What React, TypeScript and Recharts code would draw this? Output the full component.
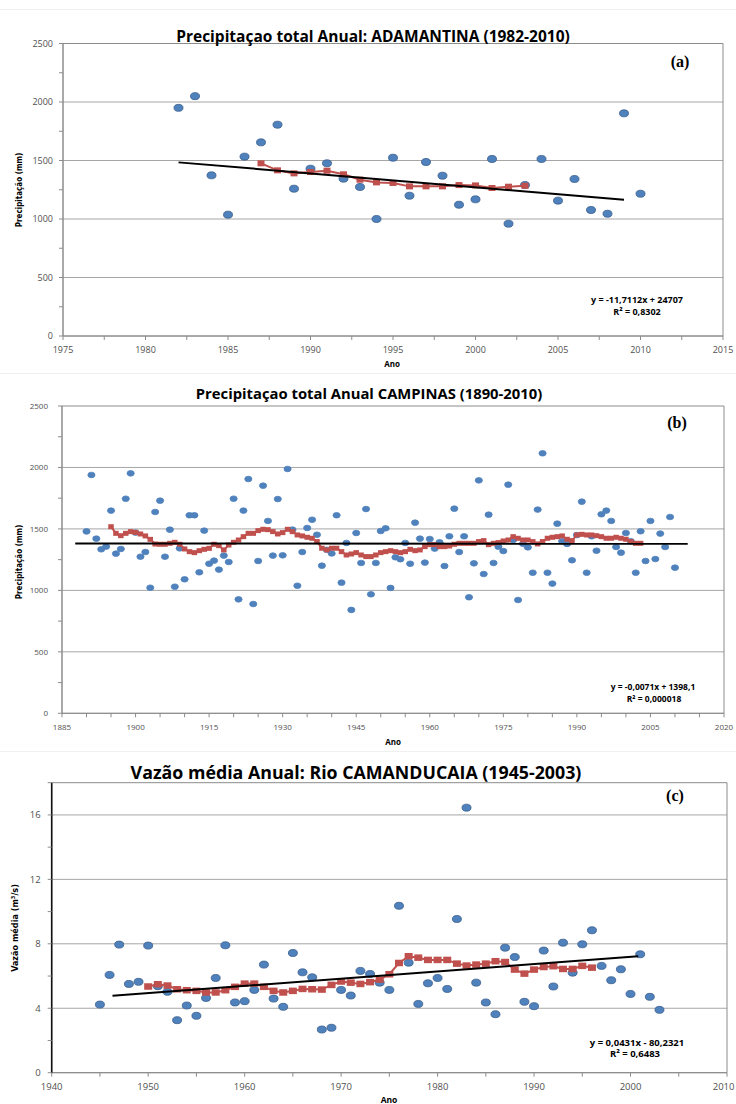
import React from 'react';
import { ScatterChart, Scatter, XAxis, YAxis, CartesianGrid, ReferenceArea } from 'recharts';

// ---------- (a) ADAMANTINA ----------
const aYears = [1982, 1983, 1984, 1985, 1986, 1987, 1988, 1989, 1990, 1991, 1992, 1993, 1994, 1995, 1996,
  1997, 1998, 1999, 2000, 2001, 2002, 2003, 2004, 2005, 2006, 2007, 2008, 2009, 2010];
const aPrecip = [1950, 2050, 1373, 1037, 1533, 1655, 1806, 1259, 1430, 1476, 1345, 1274, 1000, 1524, 1199,
  1487, 1370, 1122, 1168, 1513, 960, 1290, 1513, 1157, 1342, 1077, 1045, 1903, 1216];
const aAvgYears = [1987, 1988, 1989, 1990, 1991, 1992, 1993, 1994, 1995, 1996, 1997, 1998, 1999, 2000, 2001, 2002, 2003];
const aAvg = [1476, 1416, 1390, 1402, 1413, 1382, 1336, 1313, 1308, 1279, 1279, 1279, 1290, 1287, 1265, 1276, 1284];
const aTrendYears = [1982, 2009];
const aTrend = [1484, 1165];
const aXTicks = [1975, 1977.5, 1980, 1982.5, 1985, 1987.5, 1990, 1992.5, 1995, 1997.5, 2000, 2002.5, 2005, 2007.5, 2010, 2012.5, 2015];
const aXLabels = [1975, 1980, 1985, 1990, 1995, 2000, 2005, 2010, 2015];
const aYTicks = [0, 250, 500, 750, 1000, 1250, 1500, 1750, 2000, 2250, 2500];
const aYLabels = [0, 500, 1000, 1500, 2000, 2500];

// ---------- (b) CAMPINAS ----------
const bYears = [
  1890, 1891, 1892, 1893, 1894, 1895, 1896, 1897, 1898, 1899,
  1900, 1901, 1902, 1903, 1904, 1905, 1906, 1907, 1908, 1909,
  1910, 1911, 1912, 1913, 1914, 1915, 1916, 1917, 1918, 1919,
  1920, 1921, 1922, 1923, 1924, 1925, 1926, 1927, 1928, 1929,
  1930, 1931, 1932, 1933, 1934, 1935, 1936, 1937, 1938, 1939,
  1940, 1941, 1942, 1943, 1944, 1945, 1946, 1947, 1948, 1949,
  1950, 1951, 1952, 1953, 1954, 1955, 1956, 1957, 1958, 1959,
  1960, 1961, 1962, 1963, 1964, 1965, 1966, 1967, 1968, 1969,
  1970, 1971, 1972, 1973, 1974, 1975, 1976, 1977, 1978, 1979,
  1980, 1981, 1982, 1983, 1984, 1985, 1986, 1987, 1988, 1989,
  1990, 1991, 1992, 1993, 1994, 1995, 1996, 1997, 1998, 1999,
  2000, 2001, 2002, 2003, 2004, 2005, 2006, 2007, 2008, 2009, 2010];
const bPrecip = [
  1480, 1939, 1421, 1334, 1356, 1649, 1299, 1337, 1746, 1952,
  1470, 1274, 1312, 1022, 1638, 1730, 1274, 1494, 1030, 1342,
  1090, 1611, 1611, 1147, 1486, 1217, 1242, 1169, 1283, 1231,
  1746, 927, 1649, 1906, 889, 1239, 1852, 1565, 1283, 1743,
  1285, 1988, 1494, 1038, 1312, 1508, 1575, 1453, 1201, 1330,
  1300, 1611, 1063, 1386, 841, 1467, 1223, 1662, 968, 1223,
  1483, 1505, 1020, 1269, 1253, 1386, 1217, 1551, 1421, 1226,
  1418, 1340, 1391, 1198, 1440, 1665, 1312, 1440, 944, 1220,
  1895, 1133, 1616, 1223, 1355, 1320, 1860, 1410, 922, 1380,
  1350, 1144, 1657, 2115, 1144, 1055, 1543, 1400, 1378, 1245,
  1450, 1722, 1144, 1440, 1323, 1619, 1649, 1565, 1353, 1307,
  1467, 1400, 1144, 1481, 1239, 1565, 1255, 1462, 1353, 1597, 1185];
const bAvgYears = bYears.slice(5, 114);
const bAvg = [
  1518, 1464, 1445, 1464, 1478, 1472, 1459, 1443, 1415, 1377,
  1375, 1375, 1383, 1391, 1375, 1337, 1315, 1307, 1323, 1334,
  1342, 1375, 1364, 1329, 1369, 1391, 1410, 1437, 1464, 1464,
  1486, 1497, 1494, 1478, 1459, 1470, 1497, 1478, 1451, 1443,
  1432, 1424, 1397, 1343, 1329, 1343, 1343, 1315, 1288, 1296,
  1307, 1288, 1275, 1275, 1288, 1307, 1315, 1323, 1315, 1307,
  1315, 1334, 1323, 1329, 1356, 1372, 1372, 1356, 1356, 1361,
  1375, 1383, 1383, 1383, 1383, 1397, 1405, 1372, 1383, 1389,
  1402, 1410, 1437, 1424, 1410, 1410, 1397, 1378, 1397, 1424,
  1432, 1437, 1443, 1416, 1405, 1451, 1456, 1451, 1451, 1445,
  1437, 1424, 1424, 1432, 1424, 1416, 1397, 1383, 1383];
const bTrendYears = [1887.7, 2012.6];
const bTrend = [1381, 1379];
const bXTicks = [1885, 1890, 1895, 1900, 1905, 1910, 1915, 1920, 1925, 1930, 1935, 1940, 1945, 1950, 1955,
  1960, 1965, 1970, 1975, 1980, 1985, 1990, 1995, 2000, 2005, 2010, 2015, 2020];
const bXLabels = [1885, 1900, 1915, 1930, 1945, 1960, 1975, 1990, 2005, 2020];
const bYTicks = aYTicks;
const bYLabels = aYLabels;

// ---------- (c) CAMANDUCAIA ----------
const cYears = [1945, 1946, 1947, 1948, 1949, 1950, 1951, 1952, 1953, 1954, 1955, 1956, 1957, 1958, 1959,
  1960, 1961, 1962, 1963, 1964, 1965, 1966, 1967, 1968, 1969, 1970, 1971, 1972, 1973, 1974,
  1975, 1976, 1977, 1978, 1979, 1980, 1981, 1982, 1983, 1984, 1985, 1986, 1987, 1988, 1989,
  1990, 1991, 1992, 1993, 1994, 1995, 1996, 1997, 1998, 1999, 2000, 2001, 2002, 2003];
const cFlow = [4.23, 6.07, 7.95, 5.51, 5.64, 7.89, 5.37, 5.02, 3.26, 4.17, 3.53, 4.64, 5.88, 7.91, 4.36,
  4.44, 5.14, 6.71, 4.6, 4.09, 7.43, 6.23, 5.92, 2.68, 2.79, 5.14, 4.79, 6.32, 6.13, 5.59,
  5.14, 10.36, 6.83, 4.27, 5.55, 5.88, 5.2, 9.54, 16.45, 5.59, 4.36, 3.63, 7.76, 7.18, 4.4,
  4.13, 7.58, 5.35, 8.07, 6.21, 7.97, 8.84, 6.63, 5.74, 6.42, 4.89, 7.35, 4.71, 3.9];
const cAvgYears = cYears.slice(5, 52);
const cAvg = [5.35, 5.49, 5.41, 5.18, 5.12, 5.08, 4.98, 4.98, 5.12, 5.33,
  5.53, 5.53, 5.33, 5.08, 4.98, 5.08, 5.2, 5.18, 5.16, 5.45,
  5.66, 5.59, 5.51, 5.62, 5.78, 6.11, 6.81, 7.23, 7.14, 7.0,
  7.0, 7.0, 6.77, 6.65, 6.71, 6.77, 6.92, 6.87, 6.4, 6.15,
  6.4, 6.56, 6.61, 6.44, 6.44, 6.63, 6.52];
const cTrendYears = [1946.3, 2000.8];
const cTrend = [4.77, 7.23];
const cXTicks = [1940, 1945, 1950, 1955, 1960, 1965, 1970, 1975, 1980, 1985, 1990, 1995, 2000, 2005, 2010];
const cXLabels = [1940, 1950, 1960, 1970, 1980, 1990, 2000, 2010];
const cYTicks = [0, 2, 4, 6, 8, 10, 12, 14, 16, 18];
const cYLabels = [0, 4, 8, 12, 16];

const BLUE = '#4f81bd';
const BLUE_EDGE = '#385d8a';
const RED = '#c0504d';
const GRID = '#a6a6a6';
const FRAME = '#8c8c8c';
const SANS = '"Open Sans", "Liberation Sans", sans-serif';
const NARROW = '"Liberation Sans Narrow", "DejaVu Sans Condensed", "Liberation Sans", sans-serif';
const SERIF = '"Liberation Serif", "DejaVu Serif", serif';

type Pt = { x: number; y: number };
const zip = (xs: number[], ys: number[]): Pt[] => xs.map((x, i) => ({ x, y: ys[i] }));

type PanelProps = {
  top: number;
  height: number;
  plotTop: number;
  plotLeft: number;
  plotRight: number;
  xAxisHeight: number;
  xDomain: [number, number];
  xTicks: number[];
  xLabels: number[];
  yDomain: [number, number];
  yTicks: number[];
  yLabels: number[];
  obs: Pt[];
  avg: Pt[];
  trend: Pt[];
  rx: number;
  ry: number;
  edge: string;
  sqW: number;
  sqH: number;
  fontSize: number;
  yTickMargin: number;
  yAxisStroke: string;
  yAxisStrokeWidth: number;
};

const Panel = (p: PanelProps) => {
  const grid = p.yLabels.filter((v) => v > p.yDomain[0] && v < p.yDomain[1]);
  const tickStyle = { fontSize: p.fontSize, fill: '#505050', fontFamily: SANS };

  // x tick labels, kept inside the page at the right edge
  const xTick = (t: any) => {
    const v = t.payload.value as number;
    if (!p.xLabels.includes(v)) return <g />;
    const label = String(v);
    const half = (label.length * p.fontSize * 0.6) / 2;
    const x = Math.min(t.x, 735 - half);
    return (
      <text x={x} y={t.y} dy="0.71em" textAnchor="middle" {...tickStyle}>
        {label}
      </text>
    );
  };

  return (
    <div style={{ position: 'absolute', left: 0, top: p.top }}>
      <ScatterChart
        width={736}
        height={p.height}
        margin={{ top: p.plotTop, right: p.plotRight, bottom: 0, left: 0 }}
      >
        <CartesianGrid vertical={false} horizontalValues={grid} stroke={GRID} />
        <ReferenceArea
          x1={p.xDomain[0]}
          x2={p.xDomain[1]}
          y1={p.yDomain[0]}
          y2={p.yDomain[1]}
          fill="none"
          stroke={FRAME}
          fillOpacity={0}
          ifOverflow="visible"
        />
        <XAxis
          type="number"
          dataKey="x"
          domain={p.xDomain}
          ticks={p.xTicks}
          interval={0}
          height={p.xAxisHeight}
          tickSize={4}
          tickMargin={7}
          tick={xTick}
          tickLine={{ stroke: FRAME }}
          axisLine={{ stroke: FRAME }}
          allowDataOverflow
        />
        <YAxis
          type="number"
          dataKey="y"
          domain={p.yDomain}
          ticks={p.yTicks}
          interval={0}
          width={p.plotLeft}
          tickSize={4}
          tickMargin={p.yTickMargin}
          tick={tickStyle}
          tickLine={{ stroke: FRAME }}
          axisLine={{ stroke: p.yAxisStroke, strokeWidth: p.yAxisStrokeWidth }}
          tickFormatter={(v: number) => (p.yLabels.includes(v) ? String(v) : '')}
          allowDataOverflow
        />
        <Scatter
          data={p.obs}
          fill={BLUE}
          isAnimationActive={false}
          shape={(s: any) => (
            <ellipse cx={s.cx} cy={s.cy} rx={p.rx} ry={p.ry} fill={BLUE} stroke={p.edge} strokeWidth={0.8} />
          )}
        />
        <Scatter
          data={p.avg}
          fill={RED}
          line={{ stroke: RED, strokeWidth: 2 }}
          isAnimationActive={false}
          shape={(s: any) => (
            <rect x={s.cx - p.sqW / 2} y={s.cy - p.sqH / 2} width={p.sqW} height={p.sqH} fill={RED} />
          )}
        />
        <Scatter
          data={p.trend}
          fill="#000"
          line={{ stroke: '#000', strokeWidth: 2 }}
          isAnimationActive={false}
          shape={() => <g />}
        />
      </ScatterChart>
    </div>
  );
};

type TxtProps = {
  x: number;
  y: number;
  size: number;
  family?: string;
  weight?: number;
  rotate?: boolean;
  children: React.ReactNode;
};

const Txt = ({ x, y, size, family = SANS, weight = 700, rotate = false, children }: TxtProps) => (
  <div
    style={{
      position: 'absolute',
      left: x,
      top: y,
      transform: `translate(-50%, -50%)${rotate ? ' rotate(-90deg)' : ''}`,
      fontSize: size,
      fontFamily: family,
      fontWeight: weight,
      color: '#000',
      whiteSpace: 'nowrap',
      lineHeight: 1,
    }}
  >
    {children}
  </div>
);

const Sep = ({ y }: { y: number }) => (
  <div style={{ position: 'absolute', left: 0, top: y, width: 736, height: 1, background: '#f0f0f0' }} />
);

export default function App() {
  return (
    <div style={{ position: 'absolute', left: 0, top: 0, width: 736, height: 1104, background: '#fff', overflow: 'hidden' }}>
      <Sep y={9} />
      <Sep y={373} />
      <Sep y={751} />

      <Panel
        top={0}
        height={372}
        plotTop={43.5}
        plotLeft={63}
        plotRight={13}
        xAxisHeight={36}
        xDomain={[1975, 2015]}
        xTicks={aXTicks}
        xLabels={aXLabels}
        yDomain={[0, 2500]}
        yTicks={aYTicks}
        yLabels={aYLabels}
        obs={zip(aYears, aPrecip)}
        avg={zip(aAvgYears, aAvg)}
        trend={zip(aTrendYears, aTrend)}
        rx={4.5}
        ry={3.5}
        edge={BLUE_EDGE}
        sqW={7}
        sqH={6}
        fontSize={9}
        yTickMargin={6}
        yAxisStroke={FRAME}
        yAxisStrokeWidth={1}
      />
      <Txt x={373} y={37} size={15.5}>Precipitaçao total Anual: ADAMANTINA (1982-2010)</Txt>
      <Txt x={680} y={62} size={16} family={SERIF}>(a)</Txt>
      <Txt x={637} y={299} size={9}>y = -11,7112x + 24707</Txt>
      <Txt x={637} y={311} size={9}>R² = 0,8302</Txt>
      <Txt x={392} y={364} size={8}>Ano</Txt>
      <Txt x={20} y={190} size={8} family={NARROW} rotate>Precipitação (mm)</Txt>

      <Panel
        top={372}
        height={376}
        plotTop={34}
        plotLeft={62}
        plotRight={12}
        xAxisHeight={34.7}
        xDomain={[1885, 2020]}
        xTicks={bXTicks}
        xLabels={bXLabels}
        yDomain={[0, 2500]}
        yTicks={bYTicks}
        yLabels={bYLabels}
        obs={zip(bYears, bPrecip)}
        avg={zip(bAvgYears, bAvg)}
        trend={zip(bTrendYears, bTrend)}
        rx={3.6}
        ry={2.8}
        edge={BLUE}
        sqW={5.5}
        sqH={5}
        fontSize={8}
        yTickMargin={10}
        yAxisStroke={FRAME}
        yAxisStrokeWidth={1}
      />
      <Txt x={369} y={393} size={14.8}>Precipitaçao total Anual CAMPINAS (1890-2010)</Txt>
      <Txt x={677} y={423} size={16} family={SERIF}>(b)</Txt>
      <Txt x={653} y={687} size={8.5}>y = -0,0071x + 1398,1</Txt>
      <Txt x={654} y={699} size={8.5}>R² = 0,000018</Txt>
      <Txt x={393} y={742} size={8}>Ano</Txt>
      <Txt x={20} y={562} size={8} family={NARROW} rotate>Precipitação (mm)</Txt>

      <Panel
        top={748}
        height={356}
        plotTop={34.7}
        plotLeft={51.7}
        plotRight={9}
        xAxisHeight={31.3}
        xDomain={[1940, 2010]}
        xTicks={cXTicks}
        xLabels={cXLabels}
        yDomain={[0, 18]}
        yTicks={cYTicks}
        yLabels={cYLabels}
        obs={zip(cYears, cFlow)}
        avg={zip(cAvgYears, cAvg)}
        trend={zip(cTrendYears, cTrend)}
        rx={4.5}
        ry={3.5}
        edge={BLUE_EDGE}
        sqW={8}
        sqH={6.5}
        fontSize={9.5}
        yTickMargin={7}
        yAxisStroke="#111"
        yAxisStrokeWidth={1.6}
      />
      <Txt x={356} y={773} size={17.8}>Vazão média Anual: Rio CAMANDUCAIA (1945-2003)</Txt>
      <Txt x={675} y={796} size={16} family={SERIF}>(c)</Txt>
      <Txt x={637} y={1043} size={9.5}>y = 0,0431x - 80,2321</Txt>
      <Txt x={635} y={1054} size={9.5}>R² = 0,6483</Txt>
      <Txt x={389} y={1100} size={8.5}>Ano</Txt>
      <Txt x={15} y={928} size={9} family={NARROW} rotate>Vazão média (m³/s)</Txt>
    </div>
  );
}
